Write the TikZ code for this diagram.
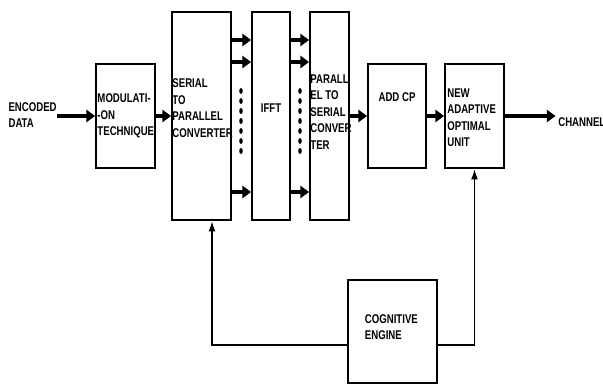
\documentclass[tikz,border=0pt]{standalone}
\usepackage{fontspec}
\setmainfont{Liberation Sans}[FakeStretch=0.76]
\usetikzlibrary{positioning, calc, arrows.meta}

\begin{document}
\begin{tikzpicture}[x=0.02cm, y=-0.02cm,
    blk/.style={draw, line width=1.1pt, inner sep=0pt},
    txt/.style={font=\fontsize{7.2}{9.4}\selectfont\bfseries, align=left, inner sep=0pt},
    bus/.style={line width=1.8pt, -{Triangle[length=5pt,width=7pt]}},
    fbk/.style={line width=0.9pt, -{Latex[length=6pt,width=4pt]}}]
    \useasboundingbox (0,0) rectangle (603,385);
    % blocks
    \node[blk, minimum width=1.18cm, minimum height=2.08cm] (mod) at (125.5,116) {};
    \node[blk, minimum width=1.18cm, minimum height=4.16cm] (sp) at (201.5,116) {};
    \node[blk, minimum width=0.76cm, minimum height=4.16cm] (ifft) at (271,116) {};
    \node[blk, minimum width=0.78cm, minimum height=4.16cm] (ps) at (329.5,116) {};
    \node[blk, minimum width=1.16cm, minimum height=2.08cm] (addcp) at (397,116) {};
    \node[blk, minimum width=1.18cm, minimum height=2.08cm] (aou) at (474.5,116) {};
    \node[blk, minimum width=1.78cm, minimum height=2.06cm] (ce) at (392.5,331.5) {};
    % texts
    \node[txt, anchor=east] (enc) at (57,115) {ENCODED\\[-0.5pt]DATA};
    \node[txt, anchor=west] (chan) at (558,122) {CHANNEL};
    \node[txt, anchor=west] (modtxt) at ([xshift=1.2pt]mod.west) {MODULATI-\\-ON\\TECHNIQUE};
    \node[txt, anchor=west] (sptxt) at ([xshift=0.6pt,yshift=4.5pt]sp.west) {SERIAL\\TO\\PARALLEL\\CONVERTER};
    \node[txt] (iffttxt) at ([yshift=4.5pt]ifft.center) {IFFT};
    \node[txt, anchor=west] (pstxt) at ([xshift=0.6pt,yshift=2.3pt]ps.west) {PARALL\\EL TO\\SERIAL\\CONVER\\TER};
    \node[txt] (addcptxt) at ([yshift=10.8pt]addcp.center) {ADD CP};
    \node[txt, anchor=west] (aoutxt) at ([xshift=1.7pt,yshift=-1pt]aou.west) {NEW\\ADAPTIVE\\OPTIMAL\\UNIT};
    \node[txt, anchor=west] (cetxt) at ([xshift=10pt,yshift=2.5pt]ce.west) {COGNITIVE\\ENGINE};
    % main chain
    \draw[bus] (enc.east |- mod.west) -- (mod.west);
    \draw[bus] (mod.east) -- (mod.east -| sp.west);
    \draw[bus] (ps.east) -- (ps.east -| addcp.west);
    \draw[bus] (addcp.east) -- (aou.west);
    \draw[bus] (aou.east) -- ([xshift=-1.4pt]aou.east -| chan.west);
    % parallel lines
    \foreach \y in {40,62,192} {
        \coordinate (r\y) at (0,\y);
        \draw[bus] (sp.east |- r\y) -- (ifft.west |- r\y);
        \draw[bus] (ifft.east |- r\y) -- (ps.west |- r\y);
    }
    \foreach \y in {91,101,...,151} {
        \fill (241,\y) ellipse [x radius=1pt, y radius=1.7pt];
        \fill (300,\y) ellipse [x radius=1pt, y radius=1.7pt];
    }
    % feedback from the engine
    \coordinate (fb) at (0,345);
    \draw[fbk] (ce.west |- fb) -| ([xshift=0.21cm]sp.south);
    \draw[fbk] (ce.east |- fb) -| (aou.south);
\end{tikzpicture}
\end{document}
